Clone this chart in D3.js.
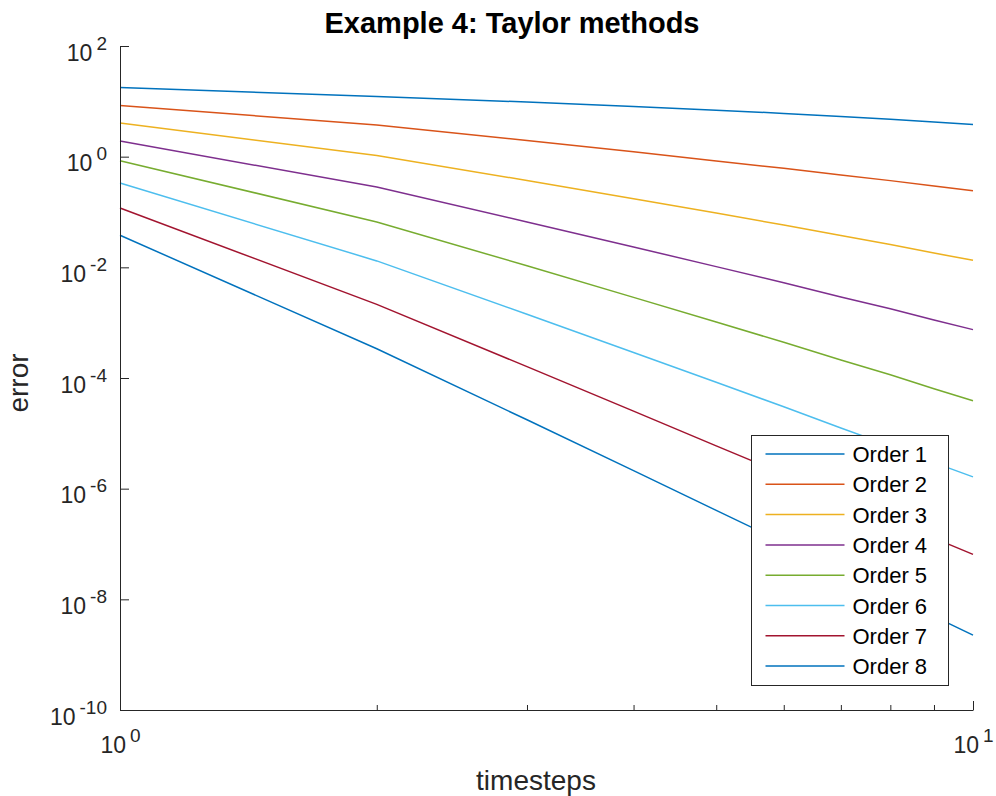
<!DOCTYPE html>
<html>
<head>
<meta charset="utf-8">
<script src="https://cdn.jsdelivr.net/npm/d3@7"></script>
<style>
  body { margin: 0; background: #fff; }
  text { font-family: "Liberation Sans", Arial, Helvetica, sans-serif; }
</style>
</head>
<body>
<div id="chart"></div>
<script>
// timesteps (x) and error of each Taylor order (y)
const timesteps = [1, 2, 3, 4, 5, 6, 7, 8, 9, 10];
const order1 = [17.8, 12.2, 9.70, 8.09, 6.93, 6.05, 5.32, 4.73, 4.23, 3.81];
const order2 = [8.43, 3.72, 1.959, 1.222, 0.839, 0.615, 0.468, 0.369, 0.294, 0.243];
const order3 = [4.05, 1.054, 0.371, 0.1738, 0.0955, 0.0581, 0.0375, 0.0258, 0.0181, 0.01343];
const order4 = [1.914, 0.282, 0.0662, 0.02333, 0.0103, 5.25e-3, 2.92e-3, 1.782e-3, 1.114e-3, 7.48e-4];
const order5 = [0.847, 0.0661, 0.01067, 2.864e-3, 1.026e-3, 4.41e-4, 2.12e-4, 1.143e-4, 6.38e-5, 3.89e-5];
const order6 = [0.334, 0.01306, 1.422e-3, 2.897e-4, 8.36e-5, 3.02e-5, 1.25e-5, 5.94e-6, 2.96e-6, 1.633e-6];
const order7 = [0.118, 0.00214, 1.607e-4, 2.518e-5, 5.94e-6, 1.837e-6, 6.65e-7, 2.84e-7, 1.279e-7, 6.49e-8];
const order8 = [0.038, 3.38e-4, 1.758e-5, 2.113e-6, 4.06e-7, 1.052e-7, 3.28e-8, 1.23e-8, 4.91e-9, 2.25e-9];
const seriesNames = ["Order 1", "Order 2", "Order 3", "Order 4", "Order 5", "Order 6", "Order 7", "Order 8"];
const colors = ["#0072BD", "#D95319", "#EDB120", "#7E2F8E", "#77AC30", "#4DBEEE", "#A2142F", "#0072BD"];

// tick values
const yTicks = [1e-10, 1e-8, 1e-6, 1e-4, 1e-2, 1e0, 1e2];
const xMajor = [1, 10];
const xMinor = [2, 3, 4, 5, 6, 7, 8, 9];

const series = [order1, order2, order3, order4, order5, order6, order7, order8];

const width = 996;
const height = 796;
const plotLeft = 120, plotRight = 973, plotTop = 46, plotBottom = 710;
const axisColor = "#262626";

const svg = d3.select("#chart")
  .append("svg")
  .attr("width", width)
  .attr("height", height);

const x = d3.scaleLog().domain([1, 10]).range([plotLeft, plotRight]);
const y = d3.scaleLog().domain([1e-10, 1e2]).range([plotBottom, plotTop]);

// lines
const line = d3.line()
  .x((d, i) => x(timesteps[i]))
  .y(d => y(d));

svg.append("g")
  .selectAll("path")
  .data(series)
  .join("path")
  .attr("fill", "none")
  .attr("stroke", (d, i) => colors[i])
  .attr("stroke-width", 1.5)
  .attr("d", line);

// x axis: minor then major ticks
const xMinorAxis = svg.append("g")
  .attr("transform", `translate(0,${plotBottom})`)
  .call(d3.axisBottom(x).tickValues(xMinor).tickSize(-5).tickSizeOuter(0).tickFormat(""));
xMinorAxis.select(".domain").remove();

const xAxis = svg.append("g")
  .attr("transform", `translate(0,${plotBottom})`)
  .call(d3.axisBottom(x).tickValues(xMajor).tickSize(-9).tickSizeOuter(0).tickFormat(""));

xAxis.selectAll(".tick")
  .append("text")
  .attr("y", 43)
  .attr("fill", axisColor)
  .attr("text-anchor", "middle")
  .attr("font-size", 23)
  .each(function(d) {
    const t = d3.select(this);
    t.append("tspan").text("10");
    t.append("tspan").attr("dx", 4).attr("dy", -11).attr("font-size", 19).text(Math.round(Math.log10(d)));
  });

// y axis
const yAxis = svg.append("g")
  .attr("transform", `translate(${plotLeft},0)`)
  .call(d3.axisLeft(y).tickValues(yTicks).tickSize(-9).tickSizeOuter(0).tickFormat(""));

yAxis.selectAll(".tick")
  .append("text")
  .attr("x", -13)
  .attr("y", 14)
  .attr("fill", axisColor)
  .attr("text-anchor", "end")
  .attr("font-size", 23)
  .each(function(d) {
    const t = d3.select(this);
    t.append("tspan").text("10");
    t.append("tspan").attr("dx", 4).attr("dy", -11).attr("font-size", 19).text(Math.round(Math.log10(d)));
  });

svg.selectAll(".domain, .tick line").attr("stroke", axisColor);

// title
svg.append("text")
  .attr("x", 512)
  .attr("y", 33)
  .attr("text-anchor", "middle")
  .attr("font-size", 29)
  .attr("font-weight", "bold")
  .attr("fill", "#000")
  .text("Example 4: Taylor methods");

// axis labels
svg.append("text")
  .attr("x", 536)
  .attr("y", 790)
  .attr("text-anchor", "middle")
  .attr("font-size", 28)
  .attr("fill", axisColor)
  .text("timesteps");

svg.append("text")
  .attr("transform", "rotate(-90)")
  .attr("x", -383)
  .attr("y", 28)
  .attr("text-anchor", "middle")
  .attr("font-size", 28)
  .attr("fill", axisColor)
  .text("error");

// legend
const legend = svg.append("g").attr("transform", "translate(751.5,435.5)");
legend.append("rect")
  .attr("width", 197)
  .attr("height", 250)
  .attr("fill", "#fff")
  .attr("stroke", axisColor)
  .attr("stroke-width", 1);

const item = legend.selectAll("g.item")
  .data(seriesNames)
  .join("g")
  .attr("class", "item")
  .attr("transform", (d, i) => `translate(0,${18.5 + i * 30.3})`);

item.append("line")
  .attr("x1", 14)
  .attr("x2", 93)
  .attr("stroke", (d, i) => colors[i])
  .attr("stroke-width", 1.5);

item.append("text")
  .attr("x", 101)
  .attr("y", 8)
  .attr("font-size", 22)
  .attr("fill", "#000")
  .text(d => d);
</script>
</body>
</html>
